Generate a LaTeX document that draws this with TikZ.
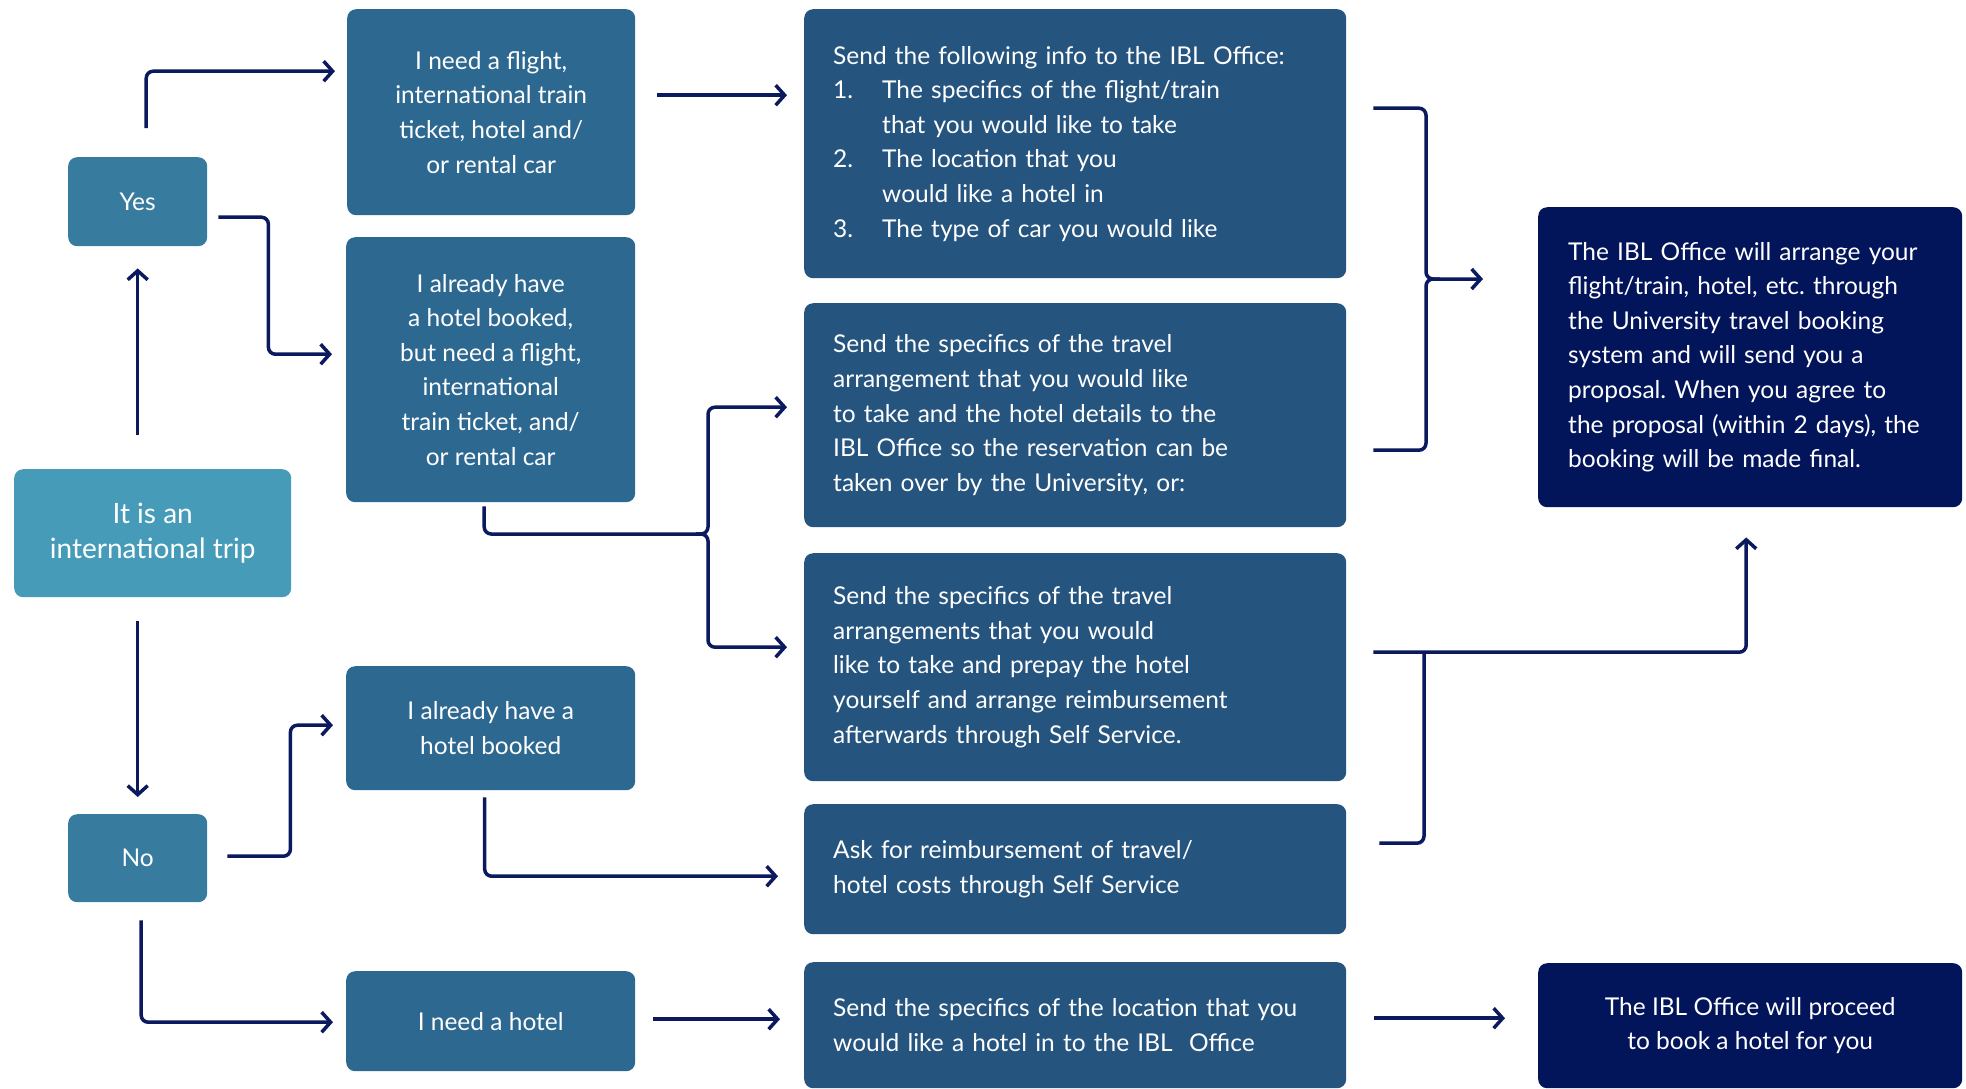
\documentclass[tikz,border=0pt]{standalone}
\usepackage{fontspec}
\setmainfont{Lato}
\usetikzlibrary{arrows.meta,calc}
\definecolor{cintl}{HTML}{459BB8}
\definecolor{cyn}{HTML}{377C9F}
\definecolor{cleft}{HTML}{2D6891}
\definecolor{cmid}{HTML}{25547F}
\definecolor{cright}{HTML}{02145A}
\definecolor{cline}{HTML}{0B1A5E}
\begin{document}
\frenchspacing
\begin{tikzpicture}[x=1pt,y=-1pt,
  box/.style={rounded corners=9pt, text=white, inner sep=0pt, anchor=north west, font=\fontsize{24.5}{34.6}\selectfont},
  cbox/.style={box, align=center},
  lbox/.style={box, align=left, inner xsep=29pt},
  conn/.style={draw=cline, line width=3.5pt, rounded corners=7pt},
  arr/.style={conn, -{Straight Barb[length=9pt,width=20pt]}},
]
\fill[white] (0,0) rectangle (1966,1088);
\path[use as bounding box] (0,0) rectangle (1966,1088);

% left column
\node[cbox, fill=cintl, minimum width=277pt, minimum height=128pt, font=\fontsize{28}{34.5}\selectfont] (intl) at (14,469) {It is an\\international trip};
\node[cbox, fill=cyn, minimum width=139pt, minimum height=89pt] (yes) at (68,157) {Yes};
\node[cbox, fill=cyn, minimum width=139pt, minimum height=88pt] (no) at (68,814) {No};

% second column
\node[cbox, fill=cleft, minimum width=288pt, minimum height=206pt] (flight) at (347,9) {I need a flight,\\international train\\ticket, hotel and/\\or rental car};
\node[cbox, fill=cleft, minimum width=289pt, minimum height=265pt] (hbf) at (346,237) {I already have\\a hotel booked,\\but need a flight,\\international\\train ticket, and/\\or rental car};
\node[cbox, fill=cleft, minimum width=289pt, minimum height=124pt] (hb) at (346,666) {I already have a\\hotel booked};
\node[cbox, fill=cleft, minimum width=289pt, minimum height=100pt] (nh) at (346,971) {I need a hotel};

% middle column
\node[lbox, fill=cmid, text width=484pt, minimum height=269pt] (info) at (804,9) {Send the following info to the IBL Office:\\\makebox[49pt][l]{1.}The specifics of the flight/train\\\hspace*{49pt}that you would like to take\\\makebox[49pt][l]{2.}The location that you\\\hspace*{49pt}would like a hotel in\\\makebox[49pt][l]{3.}The type of car you would like};
\node[lbox, fill=cmid, text width=484pt, minimum height=224pt] (takeover) at (804,303) {Send the specifics of the travel\\arrangement that you would like\\to take and the hotel details to the\\IBL Office so the reservation can be\\taken over by the University, or:};
\node[lbox, fill=cmid, text width=484pt, minimum height=228pt] (prepay) at (804,553) {Send the specifics of the travel\\arrangements that you would\\like to take and prepay the hotel\\yourself and arrange reimbursement\\afterwards through Self Service.};
\node[lbox, fill=cmid, text width=484pt, minimum height=130pt] (reimb) at (804,804) {Ask for reimbursement of travel/\\hotel costs through Self Service};
\node[lbox, fill=cmid, text width=484pt, minimum height=126pt] (location) at (804,962) {Send the specifics of the location that you\\would like a hotel in to the IBL\ \ Office};

% right column
\node[lbox, inner xsep=30pt, fill=cright, text width=364pt, minimum height=300pt] (arrange) at (1538,207) {The IBL Office will arrange your\\flight/train, hotel, etc. through\\the University travel booking\\system and will send you a\\proposal. When you agree to\\the proposal (within 2 days), the\\booking will be made final.};
\node[cbox, fill=cright, minimum width=424pt, minimum height=125pt] (proceed) at (1538,963) {The IBL Office will proceed\\to book a hotel for you};

% junctions
\coordinate (j1) at (708,534);
\coordinate (j2) at (1426,279);
\coordinate (j3) at (1424,652);

% connectors
\draw[arr, shorten <=34pt, shorten >=22pt] (yes.south |- intl.north) -- (yes.south);
\draw[arr, shorten <=24pt, shorten >=17pt] (no.north |- intl.south) -- (no.north);
\draw[arr, shorten >=12pt] ([xshift=8.5pt,yshift=29pt]yes.north) |- ([yshift=41pt]flight.west);
\draw[arr, shorten >=14pt] ([xshift=11pt,yshift=-15.5pt]yes.east) -- ++(50,0) |- ([yshift=15.5pt]hbf.west);
\draw[arr, shorten >=13pt] ([xshift=20pt,yshift=2pt]no.east) -- ++(63,0) |- ([yshift=3pt]hb.west);
\draw[arr, shorten >=13pt] ([xshift=3.5pt,yshift=-18pt]no.south) |- ([yshift=-1pt]nh.west);
\draw[arr, shorten >=17pt] ([xshift=22pt,yshift=17pt]flight.east) coordinate (a7) -- (a7 -| info.west);

\draw[conn] ([xshift=-6.5pt,yshift=-4pt]hbf.south) |- ([xshift=-8pt]j1);
\draw[arr, shorten >=17pt] ([xshift=-12pt]j1) -- (j1) |- ([yshift=8pt]takeover.west);
\draw[arr, shorten >=17pt] ([xshift=-12pt]j1) -- (j1) |- ([yshift=20pt]prepay.west);

\draw[arr, shorten >=55pt] ([xshift=27pt,yshift=35.5pt]info.east) -| (j2) -- (j2 -| arrange.west);
\draw[conn] ([xshift=27pt,yshift=-35pt]takeover.east) -| (j2) -- ([xshift=14pt]j2);

\draw[arr, shorten >=30pt] ([xshift=27pt,yshift=15pt]prepay.east) -| ([xshift=-4pt]arrange.south);
\draw[conn] ([xshift=33pt,yshift=26pt]reimb.east) -| (j3);

\draw[arr, shorten >=26pt] ([xshift=-6pt,yshift=-7pt]hb.south) |- ([yshift=-7pt]reimb.west);
\draw[arr, shorten >=24pt] ([xshift=18pt,yshift=2pt]nh.east) coordinate (a13) -- (a13 -| location.west);
\draw[arr, shorten >=33pt] ([xshift=28pt,yshift=7pt]location.east) coordinate (a14) -- (a14 -| proceed.west);
\end{tikzpicture}
\end{document}
